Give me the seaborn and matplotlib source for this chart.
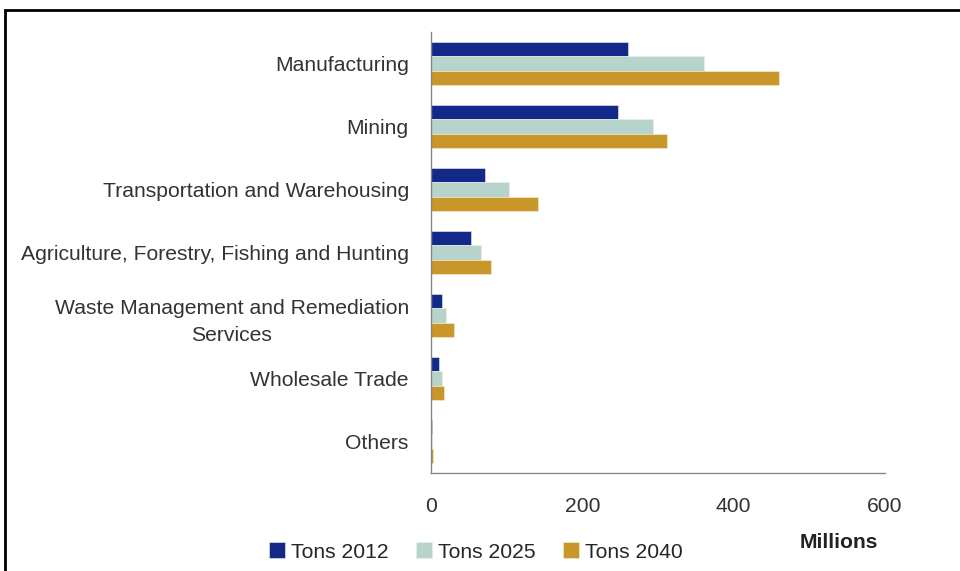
import numpy as np
import pandas as pd
import matplotlib
matplotlib.use("Agg")
import matplotlib.pyplot as plt
import seaborn as sns
from matplotlib.patches import Rectangle

# Daten (Millionen Tonnen)
sectors = ["Manufacturing", "Mining", "Transportation and Warehousing",
           "Agriculture, Forestry, Fishing and Hunting",
           "Waste Management and Remediation\nServices",
           "Wholesale Trade", "Others"]
tons_2012 = [260, 247, 71, 53, 14, 11, 1]
tons_2025 = [361, 293, 103, 66, 20, 14, 1]
tons_2040 = [460, 312, 141, 79, 30, 17, 3]
series_names = ["Tons 2012", "Tons 2025", "Tons 2040"]
colors = ["#12298A", "#B6D4CC", "#C9962A"]

df = pd.DataFrame({
    "sector": sectors * 3,
    "tons": tons_2012 + tons_2025 + tons_2040,
    "serie": [s for s in series_names for _ in sectors],
})

sns.set_style("white")
plt.rcParams["font.family"] = ["Liberation Sans", "DejaVu Sans"]
fs = 15.2

fig = plt.figure(figsize=(9.6, 5.71), dpi=100)
ax = fig.add_axes([431/960, 1-473/571, 454/960, 441/571])

sns.barplot(data=df, y="sector", x="tons", hue="serie", orient="h",
            palette=colors, width=0.67, ax=ax, saturation=1,
            edgecolor="#f3f0e0", linewidth=0.4)

ax.set_xlim(0, 600)
ax.set_ylim(len(sectors) - 0.5, -0.5)
ax.set_xticks([0, 200, 400, 600])
ax.set_xlabel("")
ax.set_ylabel("")
ax.tick_params(axis="x", labelsize=fs, colors="#333333", length=5,
               direction="out", pad=12, color="#888888")
ax.tick_params(axis="y", labelsize=fs, colors="#333333", length=0, pad=16)
for lbl in ax.get_yticklabels():
    lbl.set_multialignment("center")
    lbl.set_linespacing(1.55)
# kleine Striche zwischen den Kategorien
ax.set_yticks(np.arange(-0.5, len(sectors), 1), minor=True)
ax.tick_params(axis="y", which="minor", length=5, color="#888888")

for side in ["top", "right"]:
    ax.spines[side].set_visible(False)
for side in ["left", "bottom"]:
    ax.spines[side].set_color("#888888")
    ax.spines[side].set_linewidth(1)

handles, labels = ax.get_legend_handles_labels()
ax.legend(handles, labels, ncol=3, frameon=False, fontsize=fs,
          loc="center", bbox_to_anchor=(476/960, 1-552/571),
          bbox_transform=fig.transFigure, handlelength=0.75, handleheight=0.75,
          handletextpad=0.3, columnspacing=1.3)

fig.text(839/960, 1-542/571, "Millions", fontsize=fs, fontweight="bold",
         ha="center", va="center", color="#222222")

# Rahmen um die Grafik
fig.patches.append(Rectangle((5/960, -0.05), 1.0, 1-10/571+0.05,
                             transform=fig.transFigure, fill=False,
                             edgecolor="black", linewidth=2))

fig.savefig("out.png", dpi=100, facecolor="white")
